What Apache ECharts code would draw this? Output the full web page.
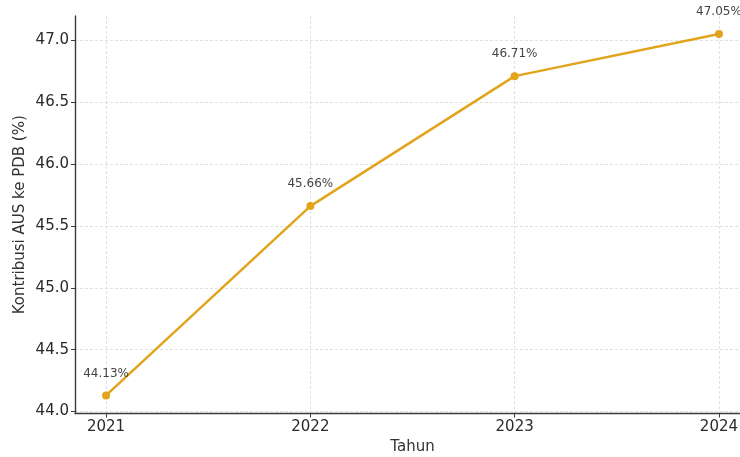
<!DOCTYPE html>
<html>
<head>
<meta charset="utf-8">
<script src="https://cdn.jsdelivr.net/npm/echarts@6/dist/echarts.min.js"></script>
<style>
html,body{margin:0;padding:0;background:#fff;overflow:hidden;}
#c{width:740px;height:457px;}
</style>
</head>
<body>
<div id="c"></div>
<script>
const years = ['2021', '2022', '2023', '2024'];
const contributions = [44.13, 45.66, 46.71, 47.05];
const yTicks = [44.0, 44.5, 45.0, 45.5, 46.0, 46.5, 47.0];

const chart = echarts.init(document.getElementById('c'), null, {renderer: 'canvas'});
const font = 'DejaVu Sans';
const seriesData = contributions.map((v, i) => [i, v]);

chart.setOption({
  animation: false,
  grid: {left: 75, width: 675, top: 16, bottom: 43.5, containLabel: false, outerBoundsMode: 'none'},
  xAxis: {
    type: 'value',
    min: -0.152, max: 3.152,
    interval: 1,
    name: 'Tahun',
    nameLocation: 'middle',
    nameGap: 26,
    nameTextStyle: {fontFamily: font, fontSize: 15, color: '#333'},
    axisLine: {show: true, onZero: false, lineStyle: {color: '#3a3a3a', width: 1.4}},
    axisTick: {show: true, length: 4, lineStyle: {color: '#3a3a3a'}, customValues: years.map((_, i) => i)},
    axisLabel: {
      fontFamily: font, fontSize: 15, color: '#2a2a2a', margin: 6,
      customValues: years.map((_, i) => i),
      formatter: v => years[Math.round(v)] ?? ''
    },
    splitLine: {show: true, lineStyle: {color: '#d9d9d9', type: [3, 2], width: 0.8}}
  },
  yAxis: {
    type: 'value',
    min: 43.984, max: 47.196,
    name: 'Kontribusi AUS ke PDB (%)',
    nameLocation: 'middle',
    nameGap: 47,
    nameMoveOverlap: false,
    nameTextStyle: {fontFamily: font, fontSize: 15, color: '#333'},
    axisLine: {show: true, onZero: false, lineStyle: {color: '#3a3a3a', width: 1.4}},
    axisTick: {show: true, length: 4, lineStyle: {color: '#3a3a3a'}, customValues: yTicks},
    axisLabel: {
      fontFamily: font, fontSize: 15, color: '#2a2a2a', margin: 6,
      customValues: yTicks,
      formatter: v => v.toFixed(1)
    },
    splitLine: {show: true, lineStyle: {color: '#d9d9d9', type: [3, 2], width: 0.8}}
  },
  series: [{
    type: 'line',
    data: seriesData,
    symbol: 'circle',
    symbolSize: 8,
    lineStyle: {color: '#E2A41C', width: 2.5},
    itemStyle: {color: '#E2A41C'},
    label: {
      show: true,
      position: 'top',
      distance: 12,
      fontFamily: font,
      fontSize: 12,
      color: '#444',
      formatter: p => contributions[p.dataIndex].toFixed(2) + '%'
    },
    z: 5
  }]
});
</script>
</body>
</html>
